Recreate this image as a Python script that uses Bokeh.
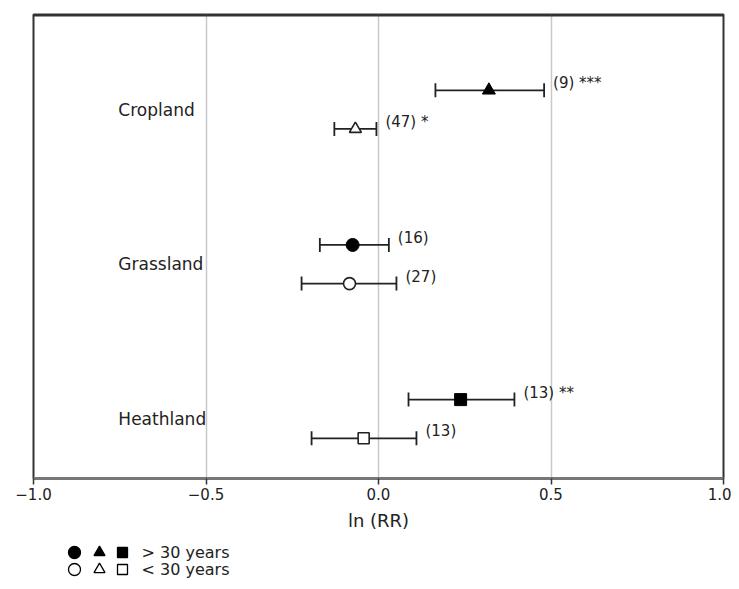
from bokeh.plotting import figure
from bokeh.models import Range1d, FixedTicker, ColumnDataSource, Whisker, TeeHead
from bokeh.layouts import column
from bokeh.core.properties import value
from bokeh.embed import file_html
from bokeh.resources import INLINE

# ---- data ----
categories = ["Cropland", "Grassland", "Heathland"]
old_mean = [0.32, -0.075, 0.238]
old_lo = [0.165, -0.17, 0.087]
old_hi = [0.48, 0.03, 0.394]
old_label = ["(9) ***", "(16)", "(13) **"]
young_mean = [-0.067, -0.084, -0.043]
young_lo = [-0.128, -0.223, -0.194]
young_hi = [-0.006, 0.052, 0.11]
young_label = ["(47) *", "(27)", "(13)"]
x_ticks = [-1.0, -0.5, 0.0, 0.5, 1.0]
x_tick_labels = ["\u22121.0", "\u22120.5", "0.0", "0.5", "1.0"]
legend_labels = ["> 30 years", "< 30 years"]

FONT = "DejaVu Sans"
DARK = "#222222"

# category centres (top to bottom)
n = len(categories)
centers = [n - 1 - i + 0.385 for i in range(n)]
off = 0.125
y_old = [c + off for c in centers]
y_young = [c - off for c in centers]

p = figure(frame_width=690, frame_height=464, output_backend="svg",
           toolbar_location=None, x_range=Range1d(-1.0, 1.0),
           y_range=Range1d(0, 3.0), min_border_left=33, min_border_right=8,
           min_border_top=14, min_border_bottom=60)
p.background_fill_color = "white"
p.border_fill_color = "white"
p.outline_line_color = "#333333"
p.outline_line_width = 2
p.yaxis.visible = False
p.ygrid.visible = False
p.xgrid.ticker = FixedTicker(ticks=x_ticks)
p.xgrid.grid_line_color = "#c8c8c8"
p.xgrid.grid_line_width = 1.5

xa = p.xaxis[0]
xa.ticker = FixedTicker(ticks=x_ticks)
xa.major_label_overrides = {t: l for t, l in zip(x_ticks, x_tick_labels)}
xa.minor_tick_line_color = None
xa.major_tick_in = 0
xa.major_tick_out = 6
xa.major_tick_line_color = "#333333"
xa.major_tick_line_width = 1.5
xa.axis_line_color = "#777777"
xa.axis_line_width = 3
xa.major_label_text_font = FONT
xa.major_label_text_font_size = "15px"
xa.major_label_text_color = DARK
xa.major_label_standoff = 3
xa.axis_label = "ln (RR)"
xa.axis_label_text_font = FONT
xa.axis_label_text_font_style = "normal"
xa.axis_label_text_font_size = "18px"
xa.axis_label_text_color = DARK
xa.axis_label_standoff = 7

# thick top border
p.line(x=[x_ticks[0], x_ticks[-1]], y=[3.0, 3.0], line_color="#333333", line_width=4)

src_old = ColumnDataSource(dict(y=y_old, m=old_mean, lo=old_lo, hi=old_hi, lab=old_label))
src_young = ColumnDataSource(dict(y=y_young, m=young_mean, lo=young_lo, hi=young_hi, lab=young_label))

for src in (src_old, src_young):
    w = Whisker(source=src, base="y", lower="lo", upper="hi", dimension="width",
                line_color=DARK, line_width=1.8,
                upper_head=TeeHead(size=14, line_color=DARK, line_width=1.8),
                lower_head=TeeHead(size=14, line_color=DARK, line_width=1.8))
    p.add_layout(w)
    p.text(x="hi", y="y", text="lab", source=src, text_font=value(FONT),
           text_font_size="15px", text_color=DARK, text_baseline="middle",
           x_offset=9, y_offset=-7)

markers = ["triangle", "circle", "square"]
sizes = [13, 13, 12]
for i in range(n):
    p.scatter(x=[old_mean[i]], y=[y_old[i]], marker=markers[i], size=sizes[i],
              fill_color="black", line_color="black", line_width=1)
    p.scatter(x=[young_mean[i]], y=[y_young[i]], marker=markers[i], size=sizes[i] - 1,
              fill_color="white", line_color=DARK, line_width=1.6)

p.text(x=[-0.754] * n, y=centers, text=categories, text_font=value(FONT),
       text_font_size="17px", text_color=DARK, text_baseline="middle", text_align="left")

# ---- legend figure (frame aligned with main frame in the column) ----
leg = figure(width=731, height=50, output_backend="svg", toolbar_location=None,
             x_range=Range1d(0, 690), y_range=Range1d(50, 0),
             min_border_left=33, min_border_right=8, min_border_top=0,
             min_border_bottom=0, outline_line_color=None)
leg.axis.visible = False
leg.grid.visible = False
leg_shapes = ["circle", "triangle", "square"]
leg_sizes = [12, 11, 10]
leg_x = [41, 66, 89]
rows = [14, 31]
for r, fill in zip(rows, ["black", "white"]):
    for mk, lx, sz in zip(leg_shapes, leg_x, leg_sizes):
        leg.scatter(x=[lx], y=[r], marker=mk, size=sz, fill_color=fill,
                    line_color="black", line_width=1.3)
leg.text(x=[108, 108], y=rows, text=legend_labels, text_font=value(FONT),
         text_font_size="16px", text_color=DARK, text_baseline="middle")

layout = column(p, leg, spacing=0)
open("out.html", "w").write(file_html(layout, INLINE))
